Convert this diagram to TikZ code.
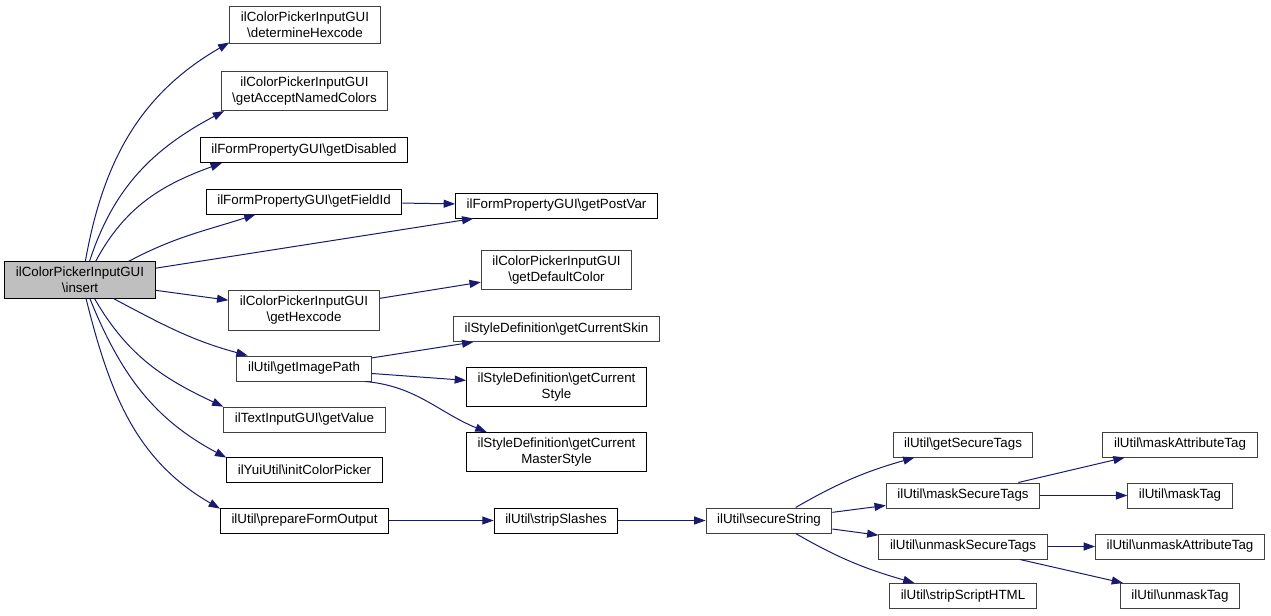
\documentclass[tikz,border=0pt]{standalone}
\usepackage{fontspec}
\setmainfont{Liberation Sans}
\usetikzlibrary{arrows.meta}
\definecolor{edgeblue}{HTML}{191970}
\definecolor{boxgray}{HTML}{404040}
\definecolor{rootfill}{HTML}{BFBFBF}
\begin{document}
\begin{tikzpicture}[x=0.75pt,y=-0.75pt,
    fn/.style={draw=black,line width=0.75pt,inner xsep=8.3pt,inner ysep=4pt,
      minimum height=18.75pt,align=center,font=\fontsize{10}{12}\selectfont},
    fndoc/.style={fn,draw=boxgray},
    call/.style={draw=edgeblue,line width=0.75pt,-{Triangle[length=8.5pt,width=6pt]}}]
  \useasboundingbox (0,0) rectangle (1271,615);
  \node[fn,fill=rootfill] (insert) at (80,280) {ilColorPickerInputGUI\\\textbackslash insert};
  \node[fndoc] (determineHexcode) at (305,25) {ilColorPickerInputGUI\\\textbackslash determineHexcode};
  \node[fndoc] (acceptNamed) at (304.5,91) {ilColorPickerInputGUI\\\textbackslash getAcceptNamedColors};
  \node[fn] (getDisabled) at (304,150) {ilFormPropertyGUI\textbackslash getDisabled};
  \node[fn] (getFieldId) at (304,201.5) {ilFormPropertyGUI\textbackslash getFieldId};
  \node[fn] (getPostVar) at (556.5,205.5) {ilFormPropertyGUI\textbackslash getPostVar};
  \node[fndoc] (getHexcode) at (304,310.5) {ilColorPickerInputGUI\\\textbackslash getHexcode};
  \node[fndoc] (getDefaultColor) at (556.5,270) {ilColorPickerInputGUI\\\textbackslash getDefaultColor};
  \node[fndoc] (getImagePath) at (304,368.5) {ilUtil\textbackslash getImagePath};
  \node[fndoc] (currentSkin) at (556.5,329) {ilStyleDefinition\textbackslash getCurrentSkin};
  \node[fn] (currentStyle) at (556.5,387) {ilStyleDefinition\textbackslash getCurrent\\Style};
  \node[fn] (masterStyle) at (556.5,452) {ilStyleDefinition\textbackslash getCurrent\\MasterStyle};
  \node[fndoc] (getValue) at (304.5,419.5) {ilTextInputGUI\textbackslash getValue};
  \node[fn] (initColorPicker) at (304.5,470) {ilYuiUtil\textbackslash initColorPicker};
  \node[fn] (prepareFormOutput) at (304.5,520.5) {ilUtil\textbackslash prepareFormOutput};
  \node[fn] (stripSlashes) at (556,520.5) {ilUtil\textbackslash stripSlashes};
  \node[fndoc] (secureString) at (769,520.5) {ilUtil\textbackslash secureString};
  \node[fndoc] (getSecureTags) at (963,444.5) {ilUtil\textbackslash getSecureTags};
  \node[fndoc] (maskSecureTags) at (963,495.5) {ilUtil\textbackslash maskSecureTags};
  \node[fndoc] (unmaskSecureTags) at (963,546.5) {ilUtil\textbackslash unmaskSecureTags};
  \node[fndoc] (stripScriptHTML) at (963,596) {ilUtil\textbackslash stripScriptHTML};
  \node[fndoc] (maskAttributeTag) at (1180,444.5) {ilUtil\textbackslash maskAttributeTag};
  \node[fndoc] (maskTag) at (1180,495.5) {ilUtil\textbackslash maskTag};
  \node[fndoc] (unmaskAttributeTag) at (1180,546.5) {ilUtil\textbackslash unmaskAttributeTag};
  \node[fndoc] (unmaskTag) at (1180,596) {ilUtil\textbackslash unmaskTag};
  \begin{scope}[call]
    \draw (insert.74) to[out=80,in=210] (determineHexcode.193);
    \draw (insert.63) to[out=72,in=208] (acceptNamed.194);
    \draw (insert.50) to[out=62,in=200] (getDisabled.189);
    \draw (insert.21) to[out=28,in=198] (getFieldId.195);
    \draw (insert) -- (getPostVar);
    \draw (insert) -- (getHexcode);
    \draw (insert.-29) to[out=-28,in=165] (getImagePath.167);
    \draw (insert.-52) to[out=-60,in=155] (getValue.171);
    \draw (insert.-62) to[out=-68,in=152] (initColorPicker.171);
    \draw (insert.-72) to[out=-76,in=150] (prepareFormOutput.172);
    \draw (getFieldId) -- (getPostVar);
    \draw (getHexcode) -- (getDefaultColor);
    \draw (getImagePath) -- (currentSkin);
    \draw (getImagePath) -- (currentStyle);
    \draw (getImagePath.-12) to[out=-5,in=158] (masterStyle.164);
    \draw (prepareFormOutput) -- (stripSlashes);
    \draw (stripSlashes) -- (secureString);
    \draw (secureString.26) to[out=30,in=196] (getSecureTags.195);
    \draw (secureString) -- (maskSecureTags);
    \draw (secureString) -- (unmaskSecureTags);
    \draw (secureString.-26) to[out=-30,in=164] (stripScriptHTML.165);
    \draw (maskSecureTags) -- (maskAttributeTag);
    \draw (maskSecureTags) -- (maskTag);
    \draw (unmaskSecureTags) -- (unmaskAttributeTag);
    \draw (unmaskSecureTags) -- (unmaskTag);
  \end{scope}
\end{tikzpicture}
\end{document}
